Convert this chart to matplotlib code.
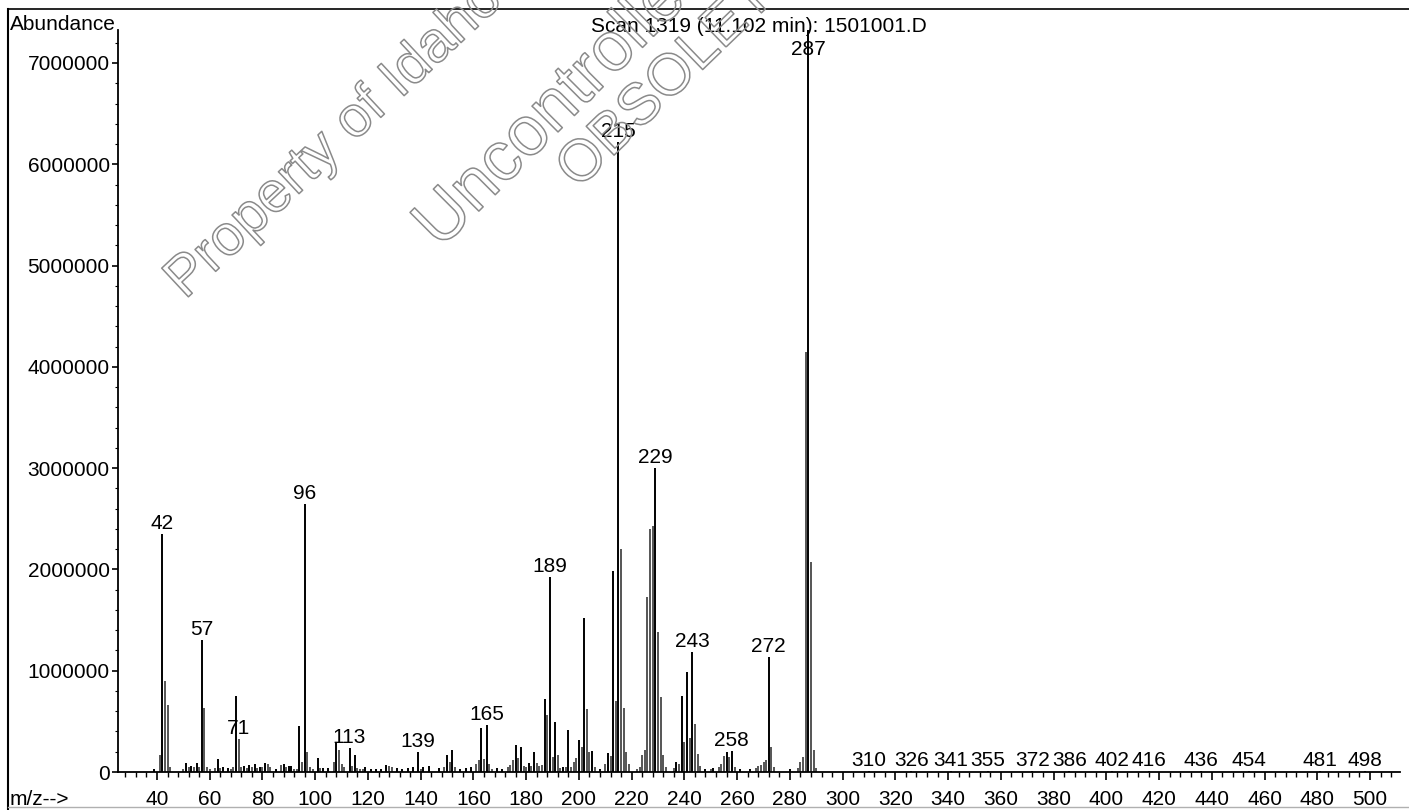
import matplotlib
matplotlib.use("Agg")
import matplotlib.pyplot as plt
import matplotlib.patheffects as pe
from matplotlib.ticker import MultipleLocator, FixedLocator
from matplotlib.lines import Line2D
import numpy as np

plt.rcParams['font.family'] = ['Liberation Sans', 'DejaVu Sans']

# ---------------- data ----------------
title = "Scan 1319 (11.102 min): 1501001.D"
y_title = "Abundance"
x_title = "m/z-->"

# m/z of every drawn peak and its abundance (millions of counts)
mz = [39, 41, 42, 43, 44, 45, 50, 51, 52, 53, 54, 55, 56, 57, 58, 59, 60, 62, 63, 64,
      65, 67, 68, 69, 70, 71, 72, 73, 74, 75, 76, 77, 78, 79, 80, 81, 82, 83, 85, 87,
      88, 89, 90, 91, 92, 93, 94, 95, 96, 97, 98, 99, 101, 102, 103, 105, 107, 108, 109, 110,
      111, 113, 114, 115, 116, 117, 118, 119, 121, 123, 125, 127, 128, 129, 131, 133, 135, 137, 139, 140,
      141, 143, 147, 149, 150, 151, 152, 153, 155, 157, 159, 161, 162, 163, 164, 165, 166, 167, 169, 171,
      173, 174, 175, 176, 177, 178, 179, 180, 181, 182, 183, 184, 185, 186, 187, 188, 189, 190, 191, 192,
      193, 194, 195, 196, 197, 198, 199, 200, 201, 202, 203, 204, 205, 206, 208, 210, 211, 212, 213, 214,
      215, 216, 217, 218, 219, 222, 223, 224, 225, 226, 227, 228, 229, 230, 231, 232, 233, 236, 237, 238,
      239, 240, 241, 242, 243, 244, 245, 246, 248, 250, 251, 253, 254, 255, 256, 257, 258, 259, 261, 265,
      267, 268, 269, 270, 271, 272, 273, 274, 280, 283, 284, 285, 286, 287, 288, 289, 290,
      310, 326, 341, 355, 372, 386, 402, 416, 436, 454, 481, 498]
abund_m = [0.03, 0.17, 2.35, 0.90, 0.66, 0.05, 0.03, 0.09, 0.05, 0.06, 0.05, 0.09, 0.05, 1.30, 0.63, 0.05, 0.03, 0.04, 0.13, 0.04,
           0.05, 0.04, 0.03, 0.05, 0.75, 0.33, 0.05, 0.06, 0.04, 0.07, 0.05, 0.08, 0.04, 0.05, 0.05, 0.09, 0.08, 0.05, 0.03, 0.07,
           0.08, 0.05, 0.06, 0.06, 0.03, 0.03, 0.45, 0.10, 2.65, 0.20, 0.05, 0.03, 0.14, 0.04, 0.04, 0.04, 0.10, 0.30, 0.22, 0.08,
           0.05, 0.24, 0.06, 0.17, 0.04, 0.03, 0.03, 0.05, 0.03, 0.03, 0.03, 0.07, 0.06, 0.05, 0.04, 0.03, 0.04, 0.05, 0.20, 0.03,
           0.05, 0.06, 0.04, 0.05, 0.17, 0.10, 0.22, 0.05, 0.03, 0.04, 0.05, 0.08, 0.12, 0.43, 0.13, 0.46, 0.08, 0.03, 0.04, 0.03,
           0.05, 0.07, 0.12, 0.27, 0.14, 0.25, 0.06, 0.05, 0.09, 0.06, 0.20, 0.09, 0.06, 0.07, 0.72, 0.56, 1.93, 0.15, 0.49, 0.17,
           0.04, 0.05, 0.05, 0.41, 0.05, 0.10, 0.14, 0.32, 0.25, 1.52, 0.62, 0.20, 0.21, 0.05, 0.03, 0.08, 0.19, 0.16, 1.98, 0.70,
           6.22, 2.20, 0.63, 0.20, 0.08, 0.03, 0.05, 0.17, 0.22, 1.73, 2.40, 2.43, 3.00, 1.38, 0.74, 0.17, 0.05, 0.04, 0.10, 0.08,
           0.75, 0.30, 0.99, 0.34, 1.18, 0.47, 0.18, 0.06, 0.03, 0.03, 0.04, 0.05, 0.08, 0.16, 0.20, 0.15, 0.21, 0.05, 0.03, 0.03,
           0.04, 0.06, 0.07, 0.10, 0.12, 1.14, 0.25, 0.05, 0.03, 0.04, 0.10, 0.15, 4.15, 7.40, 2.07, 0.22, 0.04,
           0.01, 0.01, 0.01, 0.01, 0.01, 0.01, 0.01, 0.01, 0.01, 0.01, 0.01, 0.01]

label_mz = [42, 57, 71, 96, 113, 139, 165, 189, 215, 229, 243, 258, 272, 287,
            310, 326, 341, 355, 372, 386, 402, 416, 436, 454, 481, 498]

y_ticks = [0, 1000000, 2000000, 3000000, 4000000, 5000000, 6000000, 7000000]
x_ticks = [40, 60, 80, 100, 120, 140, 160, 180, 200, 220, 240, 260, 280, 300, 320,
           340, 360, 380, 400, 420, 440, 460, 480, 500]

watermark = ["Property of Idaho", "Uncontrolled", "OBSOLETE"]

# ---------------- figure ----------------
W, H, DPI = 1409, 810, 100
fig = plt.figure(figsize=(W / DPI, H / DPI), dpi=DPI)
fig.patch.set_facecolor("white")

ax_left, ax_right, ax_top, ax_bot = 118, 1400, 30, 772
ax = fig.add_axes([ax_left / W, (H - ax_bot) / H, (ax_right - ax_left) / W, (ax_bot - ax_top) / H])

mz_arr = np.array(mz, dtype=float)
ab = np.array(abund_m) * 1e6

# grey for shoulder peaks, black for local maxima
colors = []
lookup = dict(zip(mz, ab))
for m, a in zip(mz, ab):
    nb = max(lookup.get(m - 1, 0), lookup.get(m + 1, 0))
    colors.append("black" if a >= nb else "#555555")

ax.vlines(mz_arr, 0, ab, colors=colors, linewidth=1.4)

px_per_unit = 2.637
x40 = 157
xmin = 40 - (x40 - ax_left) / px_per_unit
xmax = 40 + (ax_right - x40) / px_per_unit
ax.set_xlim(xmin, xmax)
px_per_m = (772 - 63) / 7.0
ax.set_ylim(0, (ax_bot - ax_top) / px_per_m * 1e6)

for sp in ["top", "right"]:
    ax.spines[sp].set_visible(False)
ax.spines["left"].set_linewidth(1.3)
ax.spines["bottom"].set_linewidth(1.3)

ax.xaxis.set_major_locator(FixedLocator(x_ticks))
ax.set_xticklabels([str(t) for t in x_ticks])
ax.xaxis.set_minor_locator(MultipleLocator(4))
ax.yaxis.set_major_locator(FixedLocator(y_ticks))
ax.set_yticklabels([str(t) for t in y_ticks])
ax.yaxis.set_minor_locator(MultipleLocator(200000))

ax.tick_params(axis="x", which="major", direction="out", length=6, width=1.2, pad=7, labelsize=15)
ax.tick_params(axis="x", which="minor", direction="out", length=3.5, width=1.0)
ax.tick_params(axis="y", which="major", direction="out", length=4, width=1.2, pad=2, labelsize=15)
ax.tick_params(axis="y", which="minor", direction="out", length=2, width=0.8)

label_cap = 7.03e6
for m in label_mz:
    y = min(lookup[m], label_cap)
    ax.annotate(str(m), (m, y), xytext=(0, 3.6), textcoords="offset points",
                ha="center", va="baseline", fontsize=15, annotation_clip=False)

# texts in figure
fig.text(10 / W, 1 - 30 / H, y_title, ha="left", va="baseline", fontsize=15)
fig.text(10 / W, 1 - 805 / H, x_title, ha="left", va="baseline", fontsize=15)
fig.text(((ax_left + ax_right) / 2) / W, 1 - 32 / H, title, ha="center", va="baseline", fontsize=15)

# frame lines of the printout
fig.add_artist(Line2D([8 / W, 8 / W], [0, 1 - 9 / H], transform=fig.transFigure, color="black", lw=1.5))
fig.add_artist(Line2D([8 / W, 1], [1 - 9 / H, 1 - 9 / H], transform=fig.transFigure, color="black", lw=1.2))
fig.add_artist(Line2D([8 / W, 1], [1 - 807 / H, 1 - 807 / H], transform=fig.transFigure, color="#b0b0b0", lw=1.0))

# watermark (outlined text)
wm_pos = [(185, 300), (440, 250), (578, 190)]
wm_size = [41, 50, 42]
wm_rot = [43, 45, 44]
for txt, (px, py), fs, rot in zip(watermark, wm_pos, wm_size, wm_rot):
    fig.text(px / W, 1 - py / H, txt, rotation=rot, rotation_mode="anchor",
             ha="left", va="baseline", fontsize=fs, color="none",
             path_effects=[pe.Stroke(linewidth=1.1, foreground="#8a8a8a")], zorder=10)

fig.savefig("out.png", dpi=DPI, facecolor="white")
